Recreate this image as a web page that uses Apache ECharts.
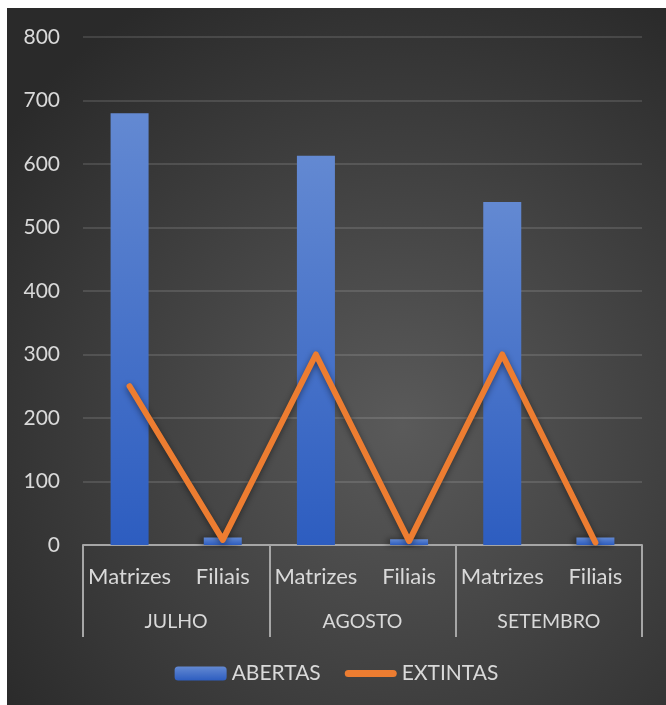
<!DOCTYPE html>
<html>
<head>
<meta charset="utf-8">
<script src="https://cdn.jsdelivr.net/npm/echarts@6/dist/echarts.min.js"></script>
<style>
html,body{margin:0;padding:0;background:#ffffff;}
#chart{position:absolute;left:7px;top:8px;width:659px;height:697px;}
</style>
</head>
<body>
<div id="chart"></div>
<script>
var months = ['JULHO', 'AGOSTO', 'SETEMBRO'];
var subCategories = ['Matrizes', 'Filiais', 'Matrizes', 'Filiais', 'Matrizes', 'Filiais'];
var abertas = [680, 12, 613, 9, 540, 12];
var extintas = [250, 8, 300, 6, 300, 4];
var yMin = 0, yMax = 800, yStep = 100;

var chart = echarts.init(document.getElementById('chart'));
var labelColor = '#d9d9d9';
var fontFamily = 'Lato, "Open Sans", sans-serif';
chart.setOption({
  backgroundColor: {
    type: 'radial', x: 0.6, y: 0.6, r: 0.75,
    colorStops: [
      {offset: 0, color: '#5a5a5a'},
      {offset: 1, color: '#2a2a2a'}
    ]
  },
  textStyle: {fontFamily: fontFamily},
  grid: {left: 76, right: 24, top: 29, bottom: 160, containLabel: false},
  legend: {
    bottom: 16,
    left: 'center',
    itemWidth: 52,
    itemHeight: 14,
    itemGap: 24,
    textStyle: {color: labelColor, fontSize: 21, fontFamily: fontFamily},
    data: [
      {name: 'ABERTAS'},
      {name: 'EXTINTAS', icon: 'path://M4,0 L54,0 A4,4 0 0 1 54,8 L4,8 A4,4 0 0 1 4,0 Z', itemStyle: {color: '#ed7d31'}}
    ]
  },
  xAxis: [
    {
      type: 'category',
      data: subCategories,
      position: 'bottom',
      axisLine: {show: true, lineStyle: {color: '#a6a6a6', width: 2}},
      axisTick: {show: false},
      axisLabel: {color: labelColor, fontSize: 22, margin: 21, interval: 0, fontFamily: fontFamily},
      splitLine: {show: false}
    },
    {
      type: 'category',
      data: months,
      position: 'bottom',
      axisLine: {show: false},
      axisTick: {show: true, length: 92, lineStyle: {color: '#a6a6a6', width: 2}},
      axisLabel: {color: labelColor, fontSize: 19.5, margin: 67, interval: 0, fontFamily: fontFamily},
      splitLine: {show: false}
    }
  ],
  yAxis: {
    type: 'value',
    min: yMin, max: yMax, interval: yStep,
    axisLine: {show: false},
    axisTick: {show: false},
    axisLabel: {color: labelColor, fontSize: 21, margin: 23, fontFamily: fontFamily},
    splitLine: {lineStyle: {color: 'rgba(255,255,255,0.12)', width: 2}}
  },
  series: [
    {
      name: 'ABERTAS',
      type: 'bar',
      xAxisIndex: 0,
      data: abertas,
      barWidth: 38,
      itemStyle: {
        color: {
          type: 'linear', x: 0, y: 0, x2: 0, y2: 1,
          colorStops: [{offset: 0, color: '#6389d2'}, {offset: 1, color: '#2d5dc0'}]
        },
        shadowBlur: 6,
        shadowColor: 'rgba(0,0,0,0.45)',
        shadowOffsetX: -3,
        shadowOffsetY: 0
      }
    },
    {
      name: 'EXTINTAS',
      type: 'line',
      xAxisIndex: 0,
      data: extintas,
      symbol: 'none',
      lineStyle: {color: '#ed7d31', width: 6, cap: 'round', join: 'round',
        shadowBlur: 6, shadowColor: 'rgba(0,0,0,0.45)', shadowOffsetY: 2},
      itemStyle: {color: '#ed7d31'},
      z: 3
    }
  ]
});
</script>
</body>
</html>
